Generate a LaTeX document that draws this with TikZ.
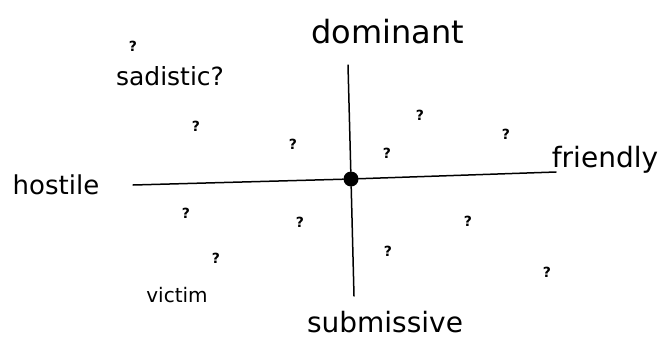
\documentclass[tikz,border=0pt]{standalone}
\usepackage{fontspec}
\setmainfont{DejaVu Sans}
\begin{document}
\begin{tikzpicture}[x=1pt,y=-1pt,
  lbl/.style={inner sep=0pt, font=\fontsize{28}{30}\selectfont},
  qm/.style={inner sep=0pt, font=\fontsize{14}{16}\selectfont\bfseries},
  axis/.style={line width=1.5pt, line cap=round}]
\useasboundingbox[fill=white] (0,0) rectangle (664,338);
% axes
\coordinate (L) at (133,185);
\coordinate (R) at (556,172);
\coordinate (T) at (348,65);
\coordinate (B) at (354,296);
\node[circle, fill=black, minimum size=15pt, inner sep=0pt] (c) at (351,179) {};
\draw[axis] (L) -- (c) -- (R);
\draw[axis] (T) -- (c) -- (B);
% labels
\node[lbl, font=\fontsize{32}{34}\selectfont] (dom) at (388,32) {dominant};
\node[lbl] (sub) at (385,322) {submissive};
\node[lbl, font=\fontsize{26}{28}\selectfont] (hos) at (56,185) {hostile};
\node[lbl] (fri) at (605,160) {friendly};
\node[lbl, font=\fontsize{25}{27}\selectfont] (sad) at (170,76) {sadistic?};
\node[lbl, font=\fontsize{20}{22}\selectfont] (vic) at (177,295) {victim};
% question marks
\node[qm] (q1) at (133,46) {?};
\node[qm] (q2) at (196,126) {?};
\node[qm] (q3) at (293,144) {?};
\node[qm] (q4) at (420,115) {?};
\node[qm] (q5) at (506,134) {?};
\node[qm] (q6) at (387,153) {?};
\node[qm] (q7) at (186,213) {?};
\node[qm] (q8) at (300,222) {?};
\node[qm] (q9) at (468,221) {?};
\node[qm] (q10) at (388,251) {?};
\node[qm] (q11) at (216,258) {?};
\node[qm] (q12) at (547,272) {?};
\end{tikzpicture}
\end{document}
